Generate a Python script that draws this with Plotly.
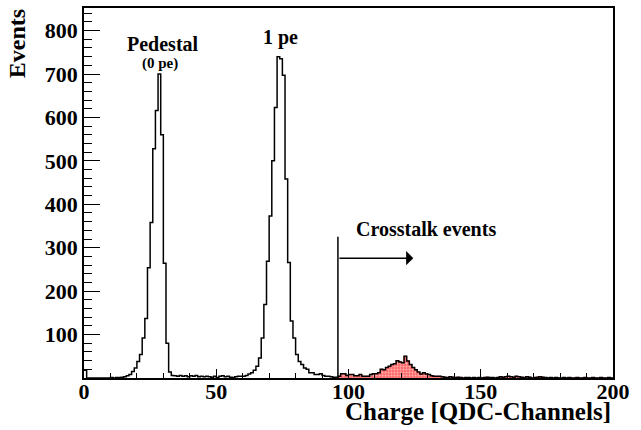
import numpy as np
import plotly.graph_objects as go

# ---------------- data (counts per QDC channel, bin width 1, channels 0..199) ----------------
counts_0_33 = [18, 0, 0, 0, 0, 0, 0, 0, 0, 0,
               1, 0, 1, 1, 2, 3, 5, 8, 15, 23,
               38, 54, 92, 137, 254, 358, 528, 616, 700, 560,
               264, 80, 14, 6]
counts_34_59 = [5, 4, 6, 4, 5, 3, 5, 4, 6, 3,
                4, 3, 4, 3, 2, 4, 1, 4, 5, 3,
                4, 2, 1, 3, 4, 4]
counts_60_95 = [4, 6, 9, 12, 18, 27, 46, 92, 169, 269,
                373, 500, 623, 740, 735, 697, 458, 266, 131, 92,
                54, 38, 31, 23, 20, 12, 12, 8, 8, 10,
                6, 4, 4, 3, 2, 2]
counts_96_135 = [4, 10, 10, 6, 8, 8, 5, 5, 8, 4,
                 4, 4, 8, 10, 10, 12, 20, 19, 24, 27,
                 31, 33, 40, 37, 35, 50, 39, 31, 24, 19,
                 14, 9, 12, 9, 8, 5, 4, 4, 4, 3]
counts_136_199 = [2, 1, 3, 2, 1, 2, 1, 0, 1, 1,
                  0, 1, 0, 1, 0, 1, 2, 1, 1, 0,
                  1, 3, 2, 3, 4, 3, 2, 4, 3, 2,
                  1, 3, 2, 0, 1, 2, 3, 2, 1, 0,
                  1, 0, 1, 0, 0, 1, 0, 1, 0, 0,
                  1, 0, 0, 1, 0, 0, 1, 0, 0, 1,
                  0, 0, 1, 0]

counts = counts_0_33 + counts_34_59 + counts_60_95 + counts_96_135 + counts_136_199
edges = list(range(0, len(counts) + 1))

cut_channel = 96          # crosstalk threshold
cut_line_top = 325        # height of the threshold line (Events)
arrow_end = 124.5
arrow_level = 276

x_tick_vals = [0, 50, 100, 150, 200]
y_tick_vals = [100, 200, 300, 400, 500, 600, 700, 800]

# ---------------- figure ----------------
FONT = "Liberation Serif"

fig = go.Figure()

# red filled crosstalk part
ci = edges.index(cut_channel)
xt_x = edges[ci:]
xt_y = counts[ci:] + [counts[-1]]
fig.add_trace(go.Scatter(
    x=xt_x, y=xt_y, mode="lines", line=dict(shape="hv", width=0.8, color="#ff3030"),
    fill="tozeroy",
    fillpattern=dict(shape=".", bgcolor="#ff6a6a", fgcolor="white", size=3, solidity=0.35),
    hoverinfo="skip", showlegend=False))

# full black outline histogram
fig.add_trace(go.Scatter(
    x=edges, y=counts + [counts[-1]], mode="lines",
    line=dict(shape="hv", width=1.5, color="black"),
    showlegend=False))

tickfont = dict(family=FONT, size=22, color="black", weight="bold")

fig.update_xaxes(range=[0, 200], tickvals=x_tick_vals, ticktext=[str(v) for v in x_tick_vals],
                 ticks="inside", ticklen=9, tickwidth=1.2, tickcolor="black",
                 minor=dict(ticks="inside", dtick=10, ticklen=5, tickwidth=1.2, tickcolor="black"),
                 showline=True, linecolor="black", linewidth=1.8, mirror=True,
                 showgrid=False, zeroline=False, tickfont=tickfont, ticklabelstandoff=-7)
fig.update_yaxes(range=[0, 852], tickvals=y_tick_vals, ticktext=[str(v) for v in y_tick_vals],
                 ticks="inside", ticklen=16, tickwidth=1.2, tickcolor="black",
                 minor=dict(ticks="inside", dtick=20, tick0=0, ticklen=8, tickwidth=1.2, tickcolor="black"),
                 showline=True, linecolor="black", linewidth=1.8, mirror=True,
                 showgrid=False, zeroline=False, tickfont=tickfont)

fig.add_shape(type="line", xref="x", yref="y", x0=cut_channel, x1=cut_channel, y0=0, y1=cut_line_top,
              line=dict(color="black", width=1.5))

annots = [
    dict(x=arrow_end, y=arrow_level, ax=cut_channel, ay=arrow_level, xref="x", yref="y",
         axref="x", ayref="y", text="", showarrow=True, arrowhead=1, arrowsize=1.6,
         arrowwidth=1.5, arrowcolor="black"),
    dict(x=30.0, y=770, xref="x", yref="y", text="Pedestal", showarrow=False,
         font=dict(family=FONT, size=20, color="black", weight="bold")),
    dict(x=28.8, y=724, xref="x", yref="y", text="(0 pe)", showarrow=False,
         font=dict(family=FONT, size=15, color="black", weight="bold")),
    dict(x=74.3, y=783, xref="x", yref="y", text="1 pe", showarrow=False,
         font=dict(family=FONT, size=20, color="black", weight="bold")),
    dict(x=129.3, y=343, xref="x", yref="y", text="Crosstalk events", showarrow=False,
         font=dict(family=FONT, size=20, color="black", weight="bold")),
    dict(x=1.0, y=-0.091, xref="paper", yref="paper", xanchor="right", yanchor="middle",
         text="Charge [QDC-Channels]", showarrow=False,
         font=dict(family=FONT, size=25, color="black", weight="bold")),
    dict(x=-0.125, y=1.003, xref="paper", yref="paper", xanchor="center", yanchor="top",
         text="Events", textangle=-90, showarrow=False,
         font=dict(family=FONT, size=24, color="black", weight="bold")),
]
fig.update_layout(annotations=annots)

fig.update_layout(width=641, height=430, margin=dict(l=84, r=28, t=6, b=52),
                  paper_bgcolor="white", plot_bgcolor="white", showlegend=False)

fig.write_html("out.html")
